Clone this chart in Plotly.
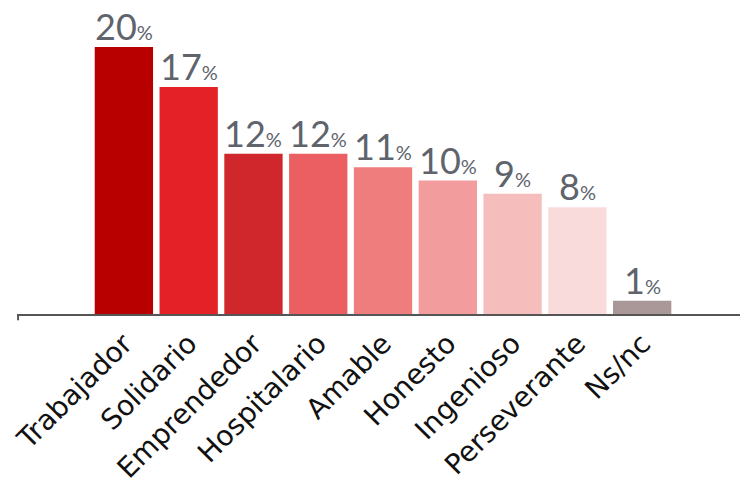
import plotly.graph_objects as go

categories = ["Trabajador", "Solidario", "Emprendedor", "Hospitalario", "Amable",
              "Honesto", "Ingenioso", "Perseverante", "Ns/nc"]
values = [20, 17, 12, 12, 11, 10, 9, 8, 1]
colors = ["#B80000", "#E32126", "#CF272B", "#EB5F62", "#EF7D7D",
          "#F39C9E", "#F6BDBD", "#FADBDC", "#AA9797"]

fig = go.Figure()
fig.add_trace(go.Bar(
    x=categories, y=values,
    marker=dict(color=colors, line=dict(width=0)),
    width=0.9,
    hoverinfo="skip",
))

for c, v in zip(categories, values):
    fig.add_annotation(
        x=c, y=v, yanchor="bottom", xanchor="center", yshift=-3,
        text=f"{v}<span style='font-size:20px'>%</span>",
        showarrow=False,
        font=dict(family="Lato", size=36, color="#5E636C"),
    )

# small hook at the left end of the axis line
fig.add_shape(type="line", xref="paper", yref="paper", x0=0.0015, x1=0.0015, y0=0, y1=-0.02,
              line=dict(color="#555555", width=2))

fig.update_layout(
    width=740, height=500,
    margin=dict(l=17, r=0, t=0, b=186),
    plot_bgcolor="white", paper_bgcolor="white",
    showlegend=False,
    bargap=0.1,
    xaxis=dict(
        range=[-1.65, 9.51],
        showline=True, linecolor="#555555", linewidth=2,
        ticks="", tickangle=-45,
        tickfont=dict(family="DejaVu Sans", size=28, color="#111111"),
        showgrid=False,
    ),
    yaxis=dict(range=[0, 23.52], visible=False, showgrid=False),
)

fig.write_html("out.html")
